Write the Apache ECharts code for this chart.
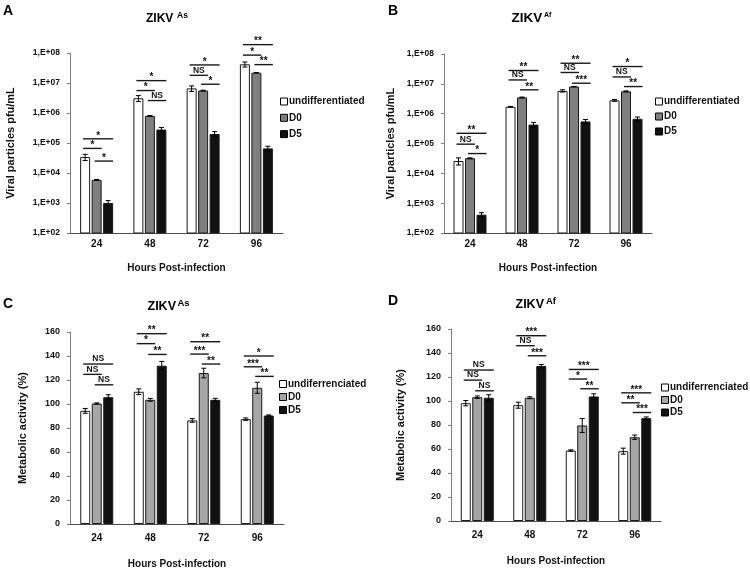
<!DOCTYPE html>
<html>
<head>
<meta charset="utf-8">
<script src="https://cdn.jsdelivr.net/npm/echarts@6/dist/echarts.min.js"></script>
<style>html,body{margin:0;padding:0;background:#fff;}#c{width:750px;height:572px;}</style>
</head>
<body>
<div id="c"></div>
<script>
// ---------- DATA ----------
const categories = ['24', '48', '72', '96'];
const namesAB = ['undifferentiated', 'D0', 'D5'];
const namesCD = ['undiferrenciated', 'D0', 'D5'];
const logTickLabels = ['1,E+02', '1,E+03', '1,E+04', '1,E+05', '1,E+06', '1,E+07', '1,E+08'];

// Panel A: ZIKV As, viral particles (pfu/mL)
const aUndiff = [3.4e4, 3.1e6, 6.6e6, 4.2e7];
const aD0 = [5.9e3, 8.0e5, 5.6e6, 2.2e7];
const aD5 = [1.0e3, 2.8e5, 2.0e5, 6.6e4];
const aUndiffErr = [8e3, 7e5, 1.4e6, 8e6];
const aD0Err = [2e2, 2e4, 1.5e5, 3e5];
const aD5Err = [2e2, 5e4, 4e4, 1.2e4];
// [category index, from bar, to bar, height, label]
const aBrackets = [
  [0, 0, 2, 1.38e5, '*'], [0, 0, 1, 6.6e4, '*'], [0, 1, 2, 2.5e4, '*'],
  [1, 0, 2, 1.2e7, '*'], [1, 0, 1, 5.6e6, '*'], [1, 1, 2, 2.6e6, 'NS'],
  [2, 0, 2, 4.0e7, '*'], [2, 0, 1, 1.8e7, 'NS'], [2, 1, 2, 9.1e6, '*'],
  [3, 0, 2, 1.9e8, '**'], [3, 0, 1, 8.5e7, '*'], [3, 1, 2, 4.1e7, '**']
];

// Panel B: ZIKV Af, viral particles (pfu/mL)
const bUndiff = [2.6e4, 1.7e6, 5.8e6, 2.8e6];
const bD0 = [3.2e4, 3.5e6, 8.1e6, 5.6e6];
const bD5 = [4.1e2, 4.3e5, 5.5e5, 6.7e5];
const bUndiffErr = [7e3, 5e4, 5e5, 2e5];
const bD0Err = [1e3, 1e5, 1e5, 2e5];
const bD5Err = [7e1, 8e4, 9e4, 1e5];
const bBrackets = [
  [0, 0, 2, 2.2e5, '**'], [0, 0, 1, 9.5e4, 'NS'], [0, 1, 2, 4.6e4, '*'],
  [1, 0, 2, 2.8e7, '**'], [1, 0, 1, 1.35e7, 'NS'], [1, 1, 2, 6.3e6, '**'],
  [2, 0, 2, 4.9e7, '**'], [2, 0, 1, 2.4e7, 'NS'], [2, 1, 2, 1.05e7, '***'],
  [3, 0, 2, 3.8e7, '*'], [3, 0, 1, 1.7e7, 'NS'], [3, 1, 2, 8.1e6, '**']
];

// Panel C: ZIKV As, metabolic activity (%)
const cUndiff = [94.3, 110.2, 86.3, 87.4];
const cD0 = [100.4, 103.5, 125.8, 113.5];
const cD5 = [105.7, 131.9, 103.5, 90.4];
const cUndiffErr = [2, 2.4, 1.5, 1];
const cD0Err = [0.5, 1.2, 4, 4.6];
const cD5Err = [2, 3.6, 1.2, 0.5];
const cBrackets = [
  [0, 0, 2, 133.3, 'NS'], [0, 0, 1, 124.7, 'NS'], [0, 1, 2, 116, 'NS'],
  [1, 0, 2, 158.6, '**'], [1, 0, 1, 150.3, '*'], [1, 1, 2, 141.3, '**'],
  [2, 0, 2, 151.9, '**'], [2, 0, 1, 141.6, '***'], [2, 1, 2, 133.3, '**'],
  [3, 0, 2, 140, '*'], [3, 0, 1, 131, '***'], [3, 1, 2, 123, '**']
];

// Panel D: ZIKV Af, metabolic activity (%)
const dUndiff = [98.2, 96.5, 58.7, 58.2];
const dD0 = [103.2, 102.7, 79.6, 69.8];
const dD5 = [102.7, 129.1, 103.8, 85.7];
const dUndiffErr = [2.2, 2.5, 0.6, 2.5];
const dD0Err = [1, 0.8, 5.8, 1.8];
const dD5Err = [2.5, 1.3, 2.2, 1];
const dBrackets = [
  [0, 0, 2, 125.8, 'NS'], [0, 0, 1, 117.4, 'NS'], [0, 1, 2, 108.5, 'NS'],
  [1, 0, 2, 154.4, '***'], [1, 0, 1, 146.1, 'NS'], [1, 1, 2, 137.7, '***'],
  [2, 0, 2, 126.3, '***'], [2, 0, 1, 118.3, '*'], [2, 1, 2, 110.2, '**'],
  [3, 0, 2, 106.8, '***'], [3, 0, 1, 98.5, '**'], [3, 1, 2, 90.4, '***']
];

// ---------- STYLE ----------
const FONT = 'Liberation Sans, Arial, sans-serif';
const BAR_W = 10;
const BAR_GAP = 0.15;
const colUndiff = '#ffffff';
const colD0dark = '#7f7f7f';
const colD0light = '#a6a6a6';
const colD5 = '#111111';

const panels = [
  {vals: [aUndiff, aD0, aD5], errs: [aUndiffErr, aD0Err, aD5Err], brackets: aBrackets, names: namesAB, d0: colD0dark},
  {vals: [bUndiff, bD0, bD5], errs: [bUndiffErr, bD0Err, bD5Err], brackets: bBrackets, names: namesAB, d0: colD0dark},
  {vals: [cUndiff, cD0, cD5], errs: [cUndiffErr, cD0Err, cD5Err], brackets: cBrackets, names: namesCD, d0: colD0light},
  {vals: [dUndiff, dD0, dD5], errs: [dUndiffErr, dD0Err, dD5Err], brackets: dBrackets, names: namesCD, d0: colD0light}
];

const grids = [
  {left: 70, top: 53, width: 213, height: 180},
  {left: 444, top: 54, width: 208, height: 179},
  {left: 70, top: 332, width: 214, height: 192},
  {left: 451, top: 329, width: 210, height: 192}
];

function errRenderer(p) {
  return function (params, api) {
    const k = Math.floor(params.dataIndex / 4);
    const i = params.dataIndex % 4;
    const v = p.vals[k][i], e = p.errs[k][i];
    const hi = api.coord([i, v + e]);
    const lo = api.coord([i, v - e]);
    const step = BAR_W * (1 + BAR_GAP);
    const x = hi[0] + (k - 1) * step;
    const cw = 2.5;
    const st = {stroke: '#000', lineWidth: 1};
    return {type: 'group', children: [
      {type: 'line', shape: {x1: x, y1: lo[1], x2: x, y2: hi[1]}, style: st},
      {type: 'line', shape: {x1: x - cw, y1: hi[1], x2: x + cw, y2: hi[1]}, style: st},
      {type: 'line', shape: {x1: x - cw, y1: lo[1], x2: x + cw, y2: lo[1]}, style: st}
    ]};
  };
}

function bracketRenderer(list) {
  return function (params, api) {
    const b = list[params.dataIndex];
    const c = api.coord([b[0], b[3]]);
    const step = BAR_W * (1 + BAR_GAP);
    const x1 = c[0] + (b[1] - 1) * step - BAR_W / 2 + BAR_W * 0.3;
    const x2 = c[0] + (b[2] - 1) * step + BAR_W / 2;
    const y = c[1];
    const isNS = b[4] === 'NS';
    return {type: 'group', children: [
      {type: 'line', shape: {x1: x1, y1: y, x2: x2, y2: y}, style: {stroke: '#1a1a1a', lineWidth: 1.4}},
      {type: 'text', x: (x1 + x2) / 2, y: isNS ? y - 0.5 : y + 2, style: {text: b[4], textAlign: 'center', textVerticalAlign: 'bottom', font: 'bold ' + (isNS ? 8.5 : 10) + 'px ' + FONT, fill: '#111'}}
    ]};
  };
}

function t(x, y, text, size) {
  return {type: 'text', x: x, y: y, style: {text: text, font: 'bold ' + size + 'px ' + FONT, fill: '#000', textVerticalAlign: 'middle'}};
}

const option = {
  animation: false,
  backgroundColor: '#fff',
  grid: grids.map(g => Object.assign({containLabel: false, outerBoundsMode: 'none'}, g)),
  xAxis: [0, 1, 2, 3].map(i => ({
    type: 'category', gridIndex: i, data: categories,
    axisLine: {lineStyle: {color: '#4d4d4d', width: 1}},
    axisTick: {show: false},
    axisLabel: {fontFamily: FONT, fontWeight: 'bold', fontSize: 10, color: '#111', margin: i < 2 ? 6 : 9},
    splitLine: {show: false},
    name: 'Hours Post-infection', nameLocation: 'middle', nameGap: i < 2 ? 30 : 35,
    nameTextStyle: {fontFamily: FONT, fontWeight: 'bold', fontSize: 10, color: '#111'}
  })),
  yAxis: [0, 1, 2, 3].map(i => {
    const base = {
      gridIndex: i,
      axisLine: {show: true, lineStyle: {color: '#808080', width: 1}},
      axisTick: {show: true, length: 3, lineStyle: {color: '#808080'}},
      splitLine: {show: false},
      nameLocation: 'middle',
      nameTextStyle: {fontFamily: FONT, fontWeight: 'bold', fontSize: 11, color: '#111'},
      axisLabel: {fontFamily: FONT, fontWeight: 'bold', fontSize: i < 2 ? 8.5 : 9, color: '#111', margin: 10}
    };
    if (i < 2) {
      return Object.assign(base, {
        type: 'log', logBase: 10, min: 100, max: 1e8,
        name: 'Viral particles pfu/mL', nameGap: i === 0 ? 54 : 48,
        axisLabel: Object.assign(base.axisLabel, {formatter: v => logTickLabels[Math.round(Math.log10(v)) - 2]})
      });
    }
    return Object.assign(base, {
      type: 'value', min: 0, max: 160, interval: 20,
      name: 'Metabolic activity (%)', nameGap: i === 2 ? 42 : 45
    });
  }),
  legend: panels.map((p, i) => ({
    orient: 'vertical',
    padding: 0,
    left: [280, 655, 279, 661][i],
    top: [96.5, 96.5, 379, 382.5][i],
    itemWidth: 7, itemHeight: 7,
    itemGap: [6.3, 5, 3, 2.5][i],
    icon: 'rect',
    selectedMode: false,
    textStyle: {fontFamily: FONT, fontWeight: 'bold', fontSize: 10, color: '#111', padding: [0, 0, 0, -3.5]},
    data: [
      {name: p.names[0], itemStyle: {color: colUndiff, borderColor: '#000', borderWidth: 1}},
      {name: p.names[1], itemStyle: {color: p.d0, borderColor: '#000', borderWidth: 1}},
      {name: p.names[2], itemStyle: {color: colD5, borderColor: '#000', borderWidth: 1}}
    ]
  })),
  graphic: [
    t(3, 11, 'A', 14), t(388, 11, 'B', 14), t(3, 304, 'C', 14), t(388, 301, 'D', 14),
    t(146, 19, 'ZIKV', 12), t(177, 15.5, 'As', 8.5),
    t(511.5, 18.5, 'ZIKV', 13.5), t(544, 15, 'Af', 7),
    t(147.5, 306.5, 'ZIKV', 12.5), t(177.5, 303, 'As', 9.5),
    t(515.5, 305, 'ZIKV', 12.5), t(546, 301.7, 'Af', 9.5)
  ],
  series: []
};

panels.forEach((p, gi) => {
  const cols = [colUndiff, p.d0, colD5];
  p.vals.forEach((vals, k) => {
    option.series.push({
      type: 'bar', name: p.names[k], xAxisIndex: gi, yAxisIndex: gi,
      data: vals, barWidth: BAR_W, barGap: (BAR_GAP * 100) + '%',
      itemStyle: {color: cols[k], borderColor: '#1a1a1a', borderWidth: 1},
      emphasis: {disabled: true}
    });
  });
  const errData = [];
  p.vals.forEach((vals, k) => vals.forEach((v, i) => errData.push([i, v])));
  option.series.push({
    type: 'custom', xAxisIndex: gi, yAxisIndex: gi, z: 5, clip: false,
    encode: {x: 0, y: 1}, data: errData, renderItem: errRenderer(p), silent: true
  });
  option.series.push({
    type: 'custom', xAxisIndex: gi, yAxisIndex: gi, z: 5, clip: false,
    encode: {x: 0, y: 1}, data: p.brackets.map(b => [b[0], b[3]]),
    renderItem: bracketRenderer(p.brackets), silent: true
  });
});

const chart = echarts.init(document.getElementById('c'), null, {renderer: 'canvas'});
chart.setOption(option);
</script>
</body>
</html>
